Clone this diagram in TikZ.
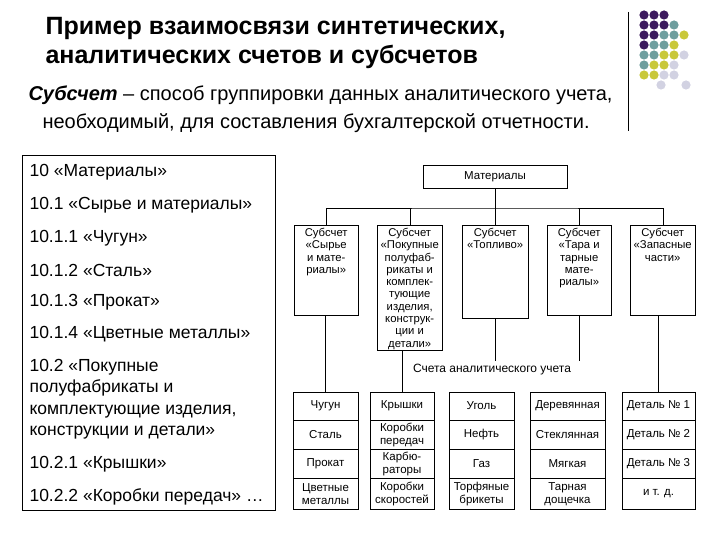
\documentclass[tikz,border=0pt]{standalone}
\usepackage{fontspec}
\setmainfont{Liberation Sans}
\usepackage{tikz}
\usetikzlibrary{positioning}
\definecolor{dotP}{HTML}{3D1A5E}
\definecolor{dotT}{HTML}{6E9E9E}
\definecolor{dotY}{HTML}{C9C83A}
\definecolor{dotL}{HTML}{D2D2E2}
\tikzset{
  subbox/.style={draw, anchor=north west, inner sep=1pt, inner ysep=3pt, font=\fontsize{11.3}{12.3}\selectfont},
  cell/.style={draw, minimum width=#1, minimum height=28.5pt, inner sep=1pt, align=center,
    font=\fontsize{11.5}{12.5}\selectfont},
  item/.style={anchor=west, align=left, font=\fontsize{17.5}{21.5}\selectfont},
}
\newcommand{\subtext}[3]{\parbox[t][#1][t]{#2}{\centering #3}}
\begin{document}
\begin{tikzpicture}[x=1pt,y=-1pt]
		\useasboundingbox (0,0) rectangle (720,540);
		
		\node[anchor=west, font=\fontsize{25}{28.5}\selectfont\bfseries, align=left] (title) at (42,43)
		  {Пример взаимосвязи синтетических,\\аналитических счетов и субсчетов};
		\node[anchor=west, font=\fontsize{20}{28}\selectfont, align=left] (sub) at (25,109)
		  {\textbf{\textit{Субсчет}} -- способ группировки данных аналитического учета,\\
		   \hspace*{14pt}необходимый, для составления бухгалтерской отчетности.};
		
		\draw (628,12) -- (628,131);
		\foreach \r/\cols in {0/{P,P,P},1/{P,P,P,T},2/{P,P,T,T,Y},3/{P,T,T,Y},4/{T,T,Y,Y,L},5/{T,Y,Y,L},6/{Y,Y,L,L}}
		  \foreach \c [count=\i from 0] in \cols
		    \fill[dot\c] (644+10*\i,15+10*\r) circle (4.6);
		\fill[dotL] (661,85) circle (4.6);
		\fill[dotL] (686,85) circle (4.6);
		
		% left list
		\draw (22,155) rectangle (275,510);
		\node[item] (l1) at (26,172) {10 «Материалы»};
		\node[item] (l2) at (26,205) {10.1 «Сырье и материалы»};
		\node[item] (l3) at (26,238) {10.1.1 «Чугун»};
		\node[item] (l4) at (26,270) {10.1.2 «Сталь»};
		\node[item] (l5) at (26,302) {10.1.3 «Прокат»};
		\node[item] (l6) at (26,334) {10.1.4 «Цветные металлы»};
		\node[item] (l7) at (26,399) {10.2 «Покупные\\полуфабрикаты и\\комплектующие изделия,\\конструкции и детали»};
		\node[item] (l8) at (26,464) {10.2.1 «Крышки»};
		\node[item] (l9) at (26,497) {10.2.2 «Коробки передач» …};
		
		% scheme
		\node[draw, minimum width=144pt, minimum height=23pt, font=\fontsize{11.5}{12}\selectfont] (mat) at (495,176.5) {Материалы};
		\node[subbox] (s1) at (294,225) {\subtext{84pt}{62pt}{Субсчет\\«Сырье\\и мате-\\риалы»}};
		\node[subbox] (s2) at (377,225) {\subtext{119pt}{63pt}{Субсчет\\«Покупные\\полуфаб-\\рикаты и\\комплек-\\тующие\\изделия,\\конструк-\\ции и\\детали»}};
		\node[subbox] (s3) at (462,225) {\subtext{87pt}{64pt}{Субсчет\\«Топливо»}};
		\node[subbox] (s4) at (547,225) {\subtext{84pt}{62pt}{Субсчет\\«Тара и\\тарные\\мате-\\риалы»}};
		\node[subbox] (s5) at (630,225) {\subtext{84pt}{63pt}{Субсчет\\«Запасные\\части»}};
		\coordinate (bus) at (495,208);
		\draw (mat.south) -- (bus);
		\draw (s1.north) |- (bus) -| (s5.north);
		\draw (s2.north) -- (s2.north |- bus);
		\draw (s3.north) -- (s3.north |- bus);
		\draw (s4.north) -- (s4.north |- bus);
		
		\node[font=\fontsize{12}{12}\selectfont] (acc) at (492,370) {Счета аналитического учета};
		
		\foreach \n/\x/\w/\a/\b/\c/\d in {
		  1/325.5/65/Чугун/Сталь/Прокат/{Цветные\\металлы},
		  2/402/64/Крышки/{Коробки\\передач}/{Карбю-\\раторы}/{Коробки\\скоростей},
		  3/481.5/65/Уголь/Нефть/Газ/{Торфяные\\брикеты},
		  4/567.5/75/Деревянная/Стеклянная/Мягкая/{Тарная\\дощечка},
		  5/658.5/73/{Деталь № 1}/{Деталь № 2}/{Деталь № 3}/{и т. д.}}{
		  \node[cell=\w pt] (a\n1) at (\x,406) {\a};
		  \node[cell=\w pt, below=0pt of a\n1] (a\n2) {\b};
		  \node[cell=\w pt, below=0pt of a\n2] (a\n3) {\c};
		  \node[cell=\w pt, minimum height=31pt, below=0pt of a\n3] (a\n4) {\d};
		}
		\draw (s1.south -| a11.north) -- (a11.north);
		\draw (s2.south -| a21.north) -- (a21.north);
		\draw (s3.south) -- (s3.south |- acc.north);
		\draw (s4.south) -- (s4.south |- acc.north);
		\draw (s5.south -| a51.north) -- (a51.north);
		
		\end{tikzpicture}
\end{document}
